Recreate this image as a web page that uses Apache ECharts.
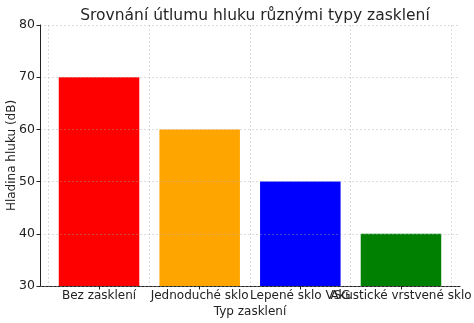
<!DOCTYPE html>
<html>
<head>
<meta charset="utf-8">
<style>
  body { margin: 0; padding: 0; background: #fff; }
  #chart { width: 474px; height: 323px; }
</style>
</head>
<body>
<div id="chart"></div>
<script src="https://cdn.jsdelivr.net/npm/echarts@6/dist/echarts.min.js"></script>
<script>
var categories = ['Bez zasklení', 'Jednoduché sklo', 'Lepené sklo VSG', 'Akustické vrstvené sklo'];
var noiseLevels = [70, 60, 50, 40];
var barColors = ['#ff0000', '#ffa500', '#0000ff', '#008000'];
var yTicks = { min: 30, max: 80, step: 10 };

var font = 'DejaVu Sans, sans-serif';
var gridLine = { show: true, lineStyle: { color: 'rgba(170,170,170,0.5)', type: [2, 2], width: 0.8 } };

var chart = echarts.init(document.getElementById('chart'));
chart.setOption({
  animation: false,
  textStyle: { fontFamily: font },
  title: {
    text: 'Srovnání útlumu hluku různými typy zasklení',
    left: 250, textAlign: 'center', top: 3,
    textStyle: { fontFamily: font, fontSize: 15.5, fontWeight: 'normal', color: '#262626' }
  },
  grid: [
    { left: 40, right: 14, top: 25, bottom: 37, containLabel: false, outerBoundsMode: 'none' },
    { left: 48.7, right: 22.7, top: 25, bottom: 37, containLabel: false, outerBoundsMode: 'none' }
  ],
  xAxis: [
    {
      gridIndex: 0, type: 'value', min: 0, max: 1,
      axisLine: { show: true, lineStyle: { color: '#222', width: 1 } },
      axisTick: { show: false }, axisLabel: { show: false }, splitLine: { show: false }
    },
    {
      gridIndex: 1, type: 'category', data: categories, z: 5,
      axisLine: { show: false },
      axisTick: { show: true, alignWithLabel: true, length: 3.5, lineStyle: { color: '#222' } },
      axisLabel: { color: '#222', fontSize: 12, margin: 4, interval: 0, hideOverlap: false },
      splitLine: { show: true, interval: 0, lineStyle: gridLine.lineStyle },
      name: 'Typ zasklení', nameLocation: 'middle', nameGap: 20, nameMoveOverlap: false,
      nameTextStyle: { color: '#222', fontSize: 12 }
    }
  ],
  yAxis: [
    {
      gridIndex: 0, type: 'value', min: yTicks.min, max: yTicks.max, interval: yTicks.step, z: 5,
      axisLine: { show: true, lineStyle: { color: '#222', width: 1 } },
      axisTick: { show: true, length: 3.5, lineStyle: { color: '#222' } },
      axisLabel: { color: '#222', fontSize: 12.5, margin: 5 },
      splitLine: gridLine,
      name: 'Hladina hluku (dB)', nameLocation: 'middle', nameGap: 22, nameMoveOverlap: false,
      nameTextStyle: { color: '#222', fontSize: 12 }
    },
    {
      gridIndex: 1, type: 'value', min: yTicks.min, max: yTicks.max, show: false
    }
  ],
  series: [{
    type: 'bar',
    xAxisIndex: 1, yAxisIndex: 1,
    barWidth: '80%',
    data: noiseLevels.map(function (v, i) {
      return { value: v, itemStyle: { color: barColors[i] } };
    })
  }]
});
</script>
</body>
</html>
